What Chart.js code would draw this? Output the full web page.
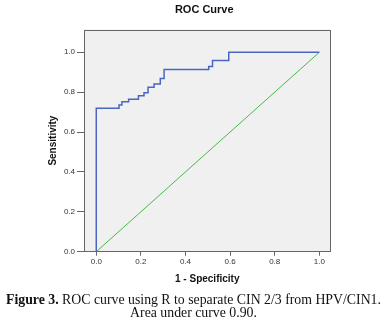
<!DOCTYPE html>
<html>
<head>
<meta charset="utf-8">
<script src="https://cdn.jsdelivr.net/npm/chart.js@4"></script>
<style>
  html, body { margin: 0; padding: 0; background: #fff; }
  #wrap { position: relative; width: 387px; height: 329px; }
  #c { position: absolute; left: 0; top: 0; }
  #cap { position: absolute; left: 0; top: 293px; width: 387px; text-align: center;
         font-family: "Liberation Serif", serif; font-size: 13.8px; line-height: 13px; color: #111; }
  #cap b { font-weight: bold; }
</style>
</head>
<body>
<div id="wrap">
  <canvas id="c" width="387" height="329"></canvas>
  <div id="cap"><b>Figure 3.</b> ROC curve using R to separate CIN 2/3 from HPV/CIN1.<br>Area under curve 0.90.</div>
</div>
<script>
// ROC staircase corners (1 - specificity, sensitivity)
const oneMinusSpec = [0, 0, 0.102, 0.115, 0.145, 0.189, 0.214, 0.232, 0.259, 0.287, 0.304, 0.504, 0.521, 0.594, 1.0];
const sensitivity  = [0, 0.719, 0.736, 0.752, 0.764, 0.782, 0.797, 0.824, 0.841, 0.868, 0.913, 0.928, 0.958, 1.0, 1.0];
const refX = [0, 1];
const refY = [0, 1];
const tickValues = [0, 0.2, 0.4, 0.6, 0.8, 1.0];
const chartTitle = 'ROC Curve';
const xTitle = '1 - Specificity';
const yTitle = 'Sensitivity';

const rocPts = oneMinusSpec.map((x, i) => ({ x: x, y: sensitivity[i] }));
const refPts = refX.map((x, i) => ({ x: x, y: refY[i] }));

const frame = {
  id: 'frame',
  beforeDatasetsDraw(chart) {
    const { ctx, chartArea: a } = chart;
    ctx.save();
    ctx.fillStyle = '#f0f0f0';
    ctx.fillRect(a.left, a.top, a.right - a.left, a.bottom - a.top);
    ctx.restore();
  },
  afterDatasetsDraw(chart) {
    const { ctx, chartArea: a } = chart;
    ctx.save();
    ctx.strokeStyle = '#666';
    ctx.lineWidth = 1;
    ctx.strokeRect(Math.round(a.left) + 0.5, Math.round(a.top) + 0.5,
                   Math.round(a.right - a.left) - 1, Math.round(a.bottom - a.top) - 1);
    ctx.fillStyle = '#111';
    ctx.font = 'bold 11px "Liberation Sans", Arial, sans-serif';
    ctx.textAlign = 'center';
    ctx.textBaseline = 'middle';
    ctx.fillText(chartTitle, (a.left + a.right) / 2 - 3, 10);
    ctx.restore();
  }
};

const tickFont = { family: '"Liberation Sans", Arial, sans-serif', size: 8 };
const titleFont = { family: '"Liberation Sans", Arial, sans-serif', size: 10, weight: 'bold' };

new Chart(document.getElementById('c'), {
  type: 'scatter',
  data: {
    datasets: [
      { data: rocPts, showLine: true, stepped: 'before', borderColor: '#4a66c0', borderWidth: 1.5,
        pointRadius: 0, fill: false },
      { data: refPts, showLine: true, borderColor: '#44bb44', borderWidth: 1,
        pointRadius: 0, fill: false }
    ]
  },
  options: {
    responsive: false,
    animation: false,
    devicePixelRatio: 1,
    layout: { padding: { left: 0, right: 56.5, top: 29.5, bottom: 39 } },
    plugins: { legend: { display: false }, tooltip: { enabled: false }, title: { display: false } },
    scales: {
      x: {
        type: 'linear', min: -0.055, max: 1.05,
        afterBuildTicks: s => { s.ticks = tickValues.map(v => ({ value: v })); },
        afterFit: s => { s.height = 38.3; },
        grid: { drawOnChartArea: false, drawTicks: true, tickLength: 4, color: '#666' },
        border: { display: false },
        ticks: { font: tickFont, color: '#333', padding: 1, maxRotation: 0, callback: v => v.toFixed(1) },
        title: { display: true, text: xTitle, font: titleFont, color: '#111', padding: { top: 0, bottom: 5 } }
      },
      y: {
        type: 'linear', min: 0, max: 1.114,
        afterBuildTicks: s => { s.ticks = tickValues.map(v => ({ value: v })); },
        afterFit: s => { s.width = 84; },
        grid: { drawOnChartArea: false, drawTicks: true, tickLength: 7, color: '#666' },
        border: { display: false },
        ticks: { font: tickFont, color: '#333', padding: 2, callback: v => v.toFixed(1) },
        title: { display: true, text: yTitle, font: titleFont, color: '#111', padding: { top: 47, bottom: 0 } }
      }
    }
  },
  plugins: [frame]
});
</script>
</body>
</html>
